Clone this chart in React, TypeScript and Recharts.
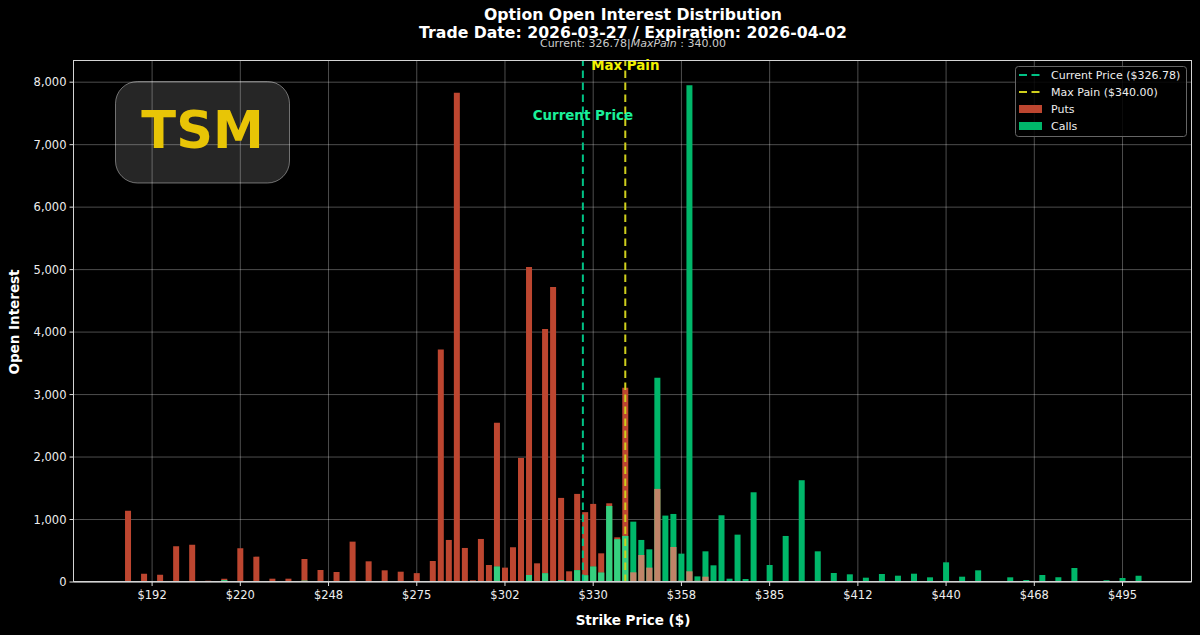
import React from 'react';
import {
  ComposedChart,
  Bar,
  Cell,
  XAxis,
  YAxis,
  CartesianGrid,
  ReferenceLine,
} from 'recharts';

const FONT = '"DejaVu Sans", sans-serif';

const strikes = [
  185, 190, 195, 200, 205, 210, 215, 220, 225, 230, 235, 240, 245, 250, 255, 260, 265, 270, 275,
  280, 282.5, 285, 287.5, 290, 292.5, 295, 297.5, 300, 302.5, 305, 307.5, 310, 312.5, 315, 317.5,
  320, 322.5, 325, 327.5, 330, 332.5, 335, 337.5, 340, 342.5, 345, 347.5, 350, 352.5, 355, 357.5,
  360, 362.5, 365, 367.5, 370, 372.5, 375, 377.5, 380, 385, 390, 395, 400, 405, 410, 415, 420, 425,
  430, 435, 440, 445, 450, 455, 460, 465, 470, 475, 480, 485, 490, 495, 500,
];

const puts = [
  1140, 133, 117, 571, 598, 20, 53, 540, 406, 53, 53, 368, 192, 160, 646, 331, 187, 165, 142,
  336, 3720, 673, 7830, 545, 27, 689, 272, 2547, 230, 555, 1986, 5040, 299, 4050, 4720,
  1346, 171, 1410, 1118, 1250, 459, 1260, 715, 3108, 155, 432, 230, 1490, 10, 560, 20,
  171, 20, 85, 0, 0, 0, 0, 0, 0, 0, 0, 0, 0, 0, 0, 0, 0, 0,
  0, 0, 0, 0, 0, 0, 0, 0, 0, 0, 0, 0, 0, 0, 0,
];

const calls = [
  0, 0, 0, 0, 0, 3, 30, 0, 0, 0, 0, 20, 0, 0, 0, 0, 0, 0, 0,
  0, 5, 8, 5, 15, 3, 12, 5, 246, 5, 15, 8, 112, 5, 139, 10,
  32, 10, 188, 107, 246, 150, 1217, 683, 737, 966, 673, 523, 3268, 1063, 1089, 454,
  7950, 90, 491, 267, 1068, 53, 758, 48, 1436, 272, 737, 1629, 491, 144, 123, 69, 128, 101,
  133, 75, 315, 85, 187, 10, 75, 32, 112, 75, 224, 5, 27, 64, 101,
];

const xTicks = [192.5, 220, 247.5, 275, 302.5, 330, 357.5, 385, 412.5, 440, 467.5, 495];
const xTickLabels = ['$192', '$220', '$248', '$275', '$302', '$330', '$358', '$385', '$412', '$440', '$468', '$495'];
const yTicks = [0, 1000, 2000, 3000, 4000, 5000, 6000, 7000, 8000];

const currentPrice = 326.78;
const maxPain = 340;

const PUT_COLOR = '#bd4630';
const CALL_COLOR = '#00b76a';
const CURRENT_COLOR = '#00c285';
const PAIN_COLOR = '#cfcf1c';

const data = strikes.map((strike, i) => ({
  strike,
  puts: puts[i],
  calls: calls[i],
  overlap: Math.min(puts[i], calls[i]),
}));

const BAR_WIDTH = 6;

const App = () => {
  return (
    <div style={{ position: 'absolute', left: 0, top: 0, width: 1200, height: 635, background: '#000', overflow: 'hidden' }}>
      <ComposedChart
        width={1200}
        height={635}
        data={data}
        barSize={BAR_WIDTH}
        barGap={-BAR_WIDTH}
        margin={{ top: 60.5, right: 8.5, left: 13.5, bottom: 23 }}
      >
        <CartesianGrid stroke="#fff" strokeOpacity={0.3} strokeWidth={1} />
        <XAxis
          dataKey="strike"
          type="number"
          scale="linear"
          domain={[168, 516.5]}
          ticks={xTicks}
          interval={0}
          height={30}
          tickFormatter={(v: number) => xTickLabels[xTicks.indexOf(v)]}
          tick={{ fill: '#eee', fontSize: 11.5, fontFamily: FONT }}
          tickSize={4}
          tickMargin={5}
          stroke="#ddd"
          allowDataOverflow
        />
        <YAxis
          type="number"
          domain={[0, 8347]}
          ticks={yTicks}
          interval={0}
          width={60}
          tickFormatter={(v: number) => v.toLocaleString('en-US')}
          tick={{ fill: '#eee', fontSize: 11.5, fontFamily: FONT }}
          tickSize={4}
          tickMargin={3}
          stroke="#ddd"
          allowDataOverflow
        />
        <Bar dataKey="puts" fill={PUT_COLOR} isAnimationActive={false} />
        <Bar dataKey="calls" fill={CALL_COLOR} isAnimationActive={false} />
        <Bar dataKey="overlap" isAnimationActive={false}>
          {data.map((d) => (
            <Cell key={d.strike} fill={d.calls < d.puts ? '#36cf7f' : '#c08468'} />
          ))}
        </Bar>
        <ReferenceLine
          x={currentPrice}
          stroke={CURRENT_COLOR}
          strokeWidth={2}
          strokeDasharray="7.5 4.5"
          label={{ value: 'Current Price', position: 'insideTop', offset: 50, fill: '#1af09a', fontSize: 13.4, fontWeight: 700, fontFamily: FONT }}
        />
        <ReferenceLine
          x={maxPain}
          stroke={PAIN_COLOR}
          strokeWidth={2}
          strokeDasharray="7.5 4.5"
          label={{ value: 'Max Pain', position: 'insideTop', offset: 0, fill: '#f2f200', fontSize: 13.4, fontWeight: 700, fontFamily: FONT }}
        />
      </ComposedChart>

      <svg width={1200} height={635} style={{ position: 'absolute', left: 0, top: 0, pointerEvents: 'none' }} fontFamily={FONT}>
        <rect x={73.5} y={60.5} width={1118} height={521} fill="none" stroke="#d4d4d4" strokeWidth={1} />

        <text x={633} y={20} textAnchor="middle" fill="#fff" fontSize={15.7} fontWeight={700}>Option Open Interest Distribution</text>
        <text x={633} y={37.5} textAnchor="middle" fill="#fff" fontSize={15.7} fontWeight={700}>Trade Date: 2026-03-27 / Expiration: 2026-04-02</text>
        <text x={633} y={47} textAnchor="middle" fill="#ccc" fontSize={11}>
          Current: 326.78|<tspan fontStyle="italic">MaxPain</tspan> : 340.00
        </text>

        <text x={19} y={322} textAnchor="middle" fill="#fff" fontSize={13.5} fontWeight={700} transform="rotate(-90 19 322)">Open Interest</text>
        <text x={633} y={624.5} textAnchor="middle" fill="#fff" fontSize={13.5} fontWeight={700}>Strike Price ($)</text>

        <rect x={115.5} y={81.5} width={174} height={101.5} rx={22} fill="#fff" fillOpacity={0.15} stroke="#fff" strokeOpacity={0.4} />
        <text x={202.5} y={148} textAnchor="middle" fill="#e8c506" fontSize={51} fontWeight={700}>TSM</text>

        <rect x={1015.5} y={66.5} width={171} height={70} rx={3} fill="#000" fillOpacity={0.85} stroke="#666" />
        <line x1={1019} x2={1040} y1={75} y2={75} stroke={CURRENT_COLOR} strokeWidth={2} strokeDasharray="8 4.5" />
        <line x1={1019} x2={1040} y1={92} y2={92} stroke={PAIN_COLOR} strokeWidth={2} strokeDasharray="8 4.5" />
        <rect x={1019} y={105} width={23} height={8} fill={PUT_COLOR} />
        <rect x={1019} y={122} width={23} height={8} fill={CALL_COLOR} />
        <g fill="#eee" fontSize={11}>
          <text x={1051} y={79}>Current Price ($326.78)</text>
          <text x={1051} y={96}>Max Pain ($340.00)</text>
          <text x={1051} y={113}>Puts</text>
          <text x={1051} y={130}>Calls</text>
        </g>
      </svg>
    </div>
  );
};

export default App;
